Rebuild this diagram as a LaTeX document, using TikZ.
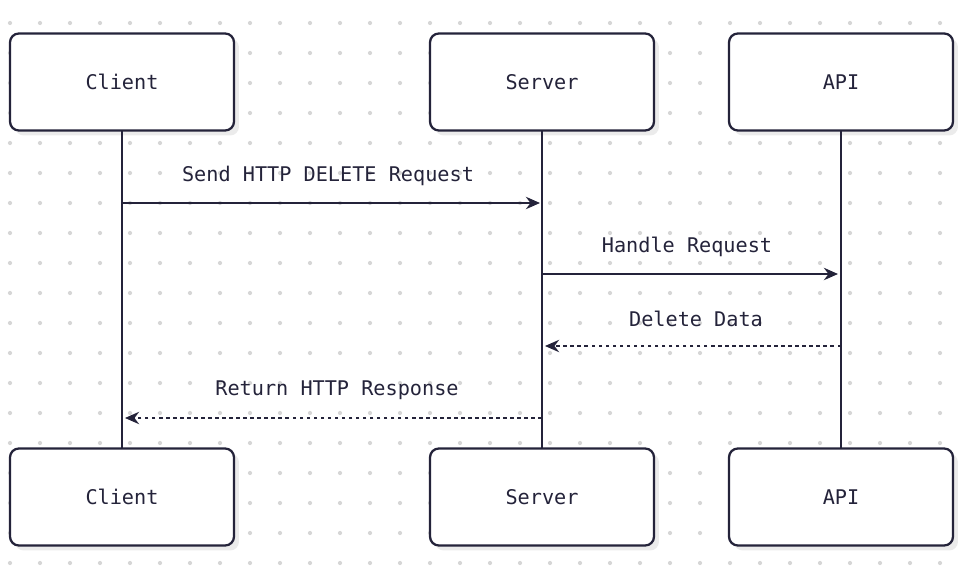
\documentclass[tikz,border=0pt]{standalone}
\usepackage{fontspec}
\setmainfont{DejaVu Sans Mono}
\usetikzlibrary{positioning,arrows.meta}
\definecolor{ink}{HTML}{24233A}
\definecolor{dotc}{HTML}{D6D6D6}
\definecolor{shade}{HTML}{EBEBEB}
\begin{document}
\begin{tikzpicture}[x=0.02cm,y=-0.02cm,
    thick,actor/.style={rectangle,rounded corners=5pt,draw=ink,line width=1.3pt,fill=white,
      minimum width=4.48cm,minimum height=1.94cm,font=\fontsize{11.5}{13}\selectfont,text=ink},
    shadow/.style={fill=shade,rounded corners=5pt,minimum width=4.48cm,minimum height=1.94cm},
    msg/.style={draw=ink,line width=1.3pt,-{Stealth[length=8pt,width=7pt]}},
    reply/.style={msg,dash pattern=on 2pt off 2pt},
    lbl/.style={font=\fontsize{11.5}{13}\selectfont,text=ink}]
  \useasboundingbox (0,0) rectangle (966,587);
  % dotted background
  \foreach \x in {10,40,...,960}
    \foreach \y in {23,53,...,580}
      \fill[dotc] (\x,\y) circle (1.2pt);

  % shadows
  \foreach \cx in {122,542,841}
    \foreach \cy in {82,497}
      \node[shadow] at (\cx+5,\cy+5) {};

  % lifelines
  \draw[ink,line width=1.3pt] (122,131) -- (122,448);
  \draw[ink,line width=1.3pt] (542,131) -- (542,448);
  \draw[ink,line width=1.3pt] (841,131) -- (841,448);

  \node[actor] (client) at (122,82) {Client};
  \node[actor] (server) at (542,82) {Server};
  \node[actor] (api) at (841,82) {API};
  \node[actor] (client2) at (122,497) {Client};
  \node[actor] (server2) at (542,497) {Server};
  \node[actor] (api2) at (841,497) {API};

  \coordinate (c1) at (122,203); \coordinate (s1) at (540,203);
  \coordinate (s2) at (542,274); \coordinate (a2) at (838,274);
  \coordinate (a3) at (841,346); \coordinate (s3) at (545,346);
  \coordinate (s4) at (542,418); \coordinate (c4) at (125,418);

  \draw[msg] (c1) -- (s1);
  \draw[msg] (s2) -- (a2);
  \draw[reply] (a3) -- (s3);
  \draw[reply] (s4) -- (c4);

  \node[lbl] at (328,176) {Send HTTP DELETE Request};
  \node[lbl] at (687,247) {Handle Request};
  \node[lbl] at (696,319) {Delete Data};
  \node[lbl] at (337,390) {Return HTTP Response};
\end{tikzpicture}
\end{document}
